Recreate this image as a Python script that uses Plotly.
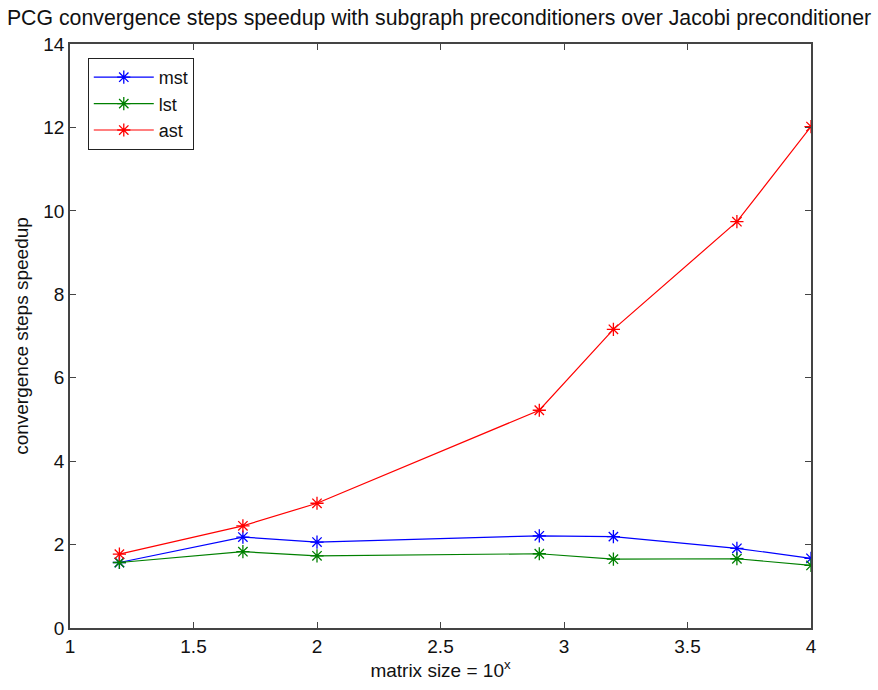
import plotly.graph_objects as go

x_vals = [1.2, 1.7, 2.0, 2.9, 3.2, 3.7, 4.0]
mst = [1.57, 2.18, 2.06, 2.21, 2.19, 1.91, 1.67]
lst = [1.57, 1.83, 1.73, 1.78, 1.65, 1.66, 1.50]
ast = [1.77, 2.45, 2.99, 5.22, 7.16, 9.74, 12.02]
x_ticks = [1, 1.5, 2, 2.5, 3, 3.5, 4]
x_tick_labels = ["1", "1.5", "2", "2.5", "3", "3.5", "4"]
y_ticks = [0, 2, 4, 6, 8, 10, 12, 14]

series = [("mst", mst, "#0000ff"), ("lst", lst, "#008000"), ("ast", ast, "#ff0000")]

FONT = "Liberation Sans, Arial, sans-serif"

fig = go.Figure()
for name, vals, col in series:
    fig.add_trace(go.Scatter(
        x=x_vals, y=vals, name=name, mode="lines+markers",
        line=dict(color=col, width=1.2),
        marker=dict(symbol="asterisk-open", size=11, color=col, line=dict(color=col, width=1.3)),
    ))

axis_common = dict(
    showgrid=False, zeroline=False, showline=True, linecolor="#444", linewidth=1.5,
    mirror="ticks", ticks="inside", ticklen=6, tickcolor="#444", tickwidth=1,
    tickfont=dict(family=FONT, size=19, color="#111"),
)

fig.update_layout(
    width=878, height=690,
    margin=dict(l=70, r=67, t=44, b=62),
    paper_bgcolor="white", plot_bgcolor="white",
    title=dict(text="PCG convergence steps speedup with subgraph preconditioners over Jacobi preconditioner",
               x=0.5, xanchor="center", y=0.974, yanchor="middle",
               font=dict(family=FONT, size=21.3, color="#111")),
    xaxis=dict(range=[1, 4], tickvals=x_ticks, ticktext=x_tick_labels,
               title=dict(text="matrix size = 10<sup>x</sup>", standoff=6,
                          font=dict(family=FONT, size=19, color="#111")),
               **axis_common),
    yaxis=dict(range=[0, 14], tickvals=y_ticks,
               title=dict(text="convergence steps speedup", standoff=10,
                          font=dict(family=FONT, size=19, color="#111")),
               **axis_common),
    legend=dict(x=0.024, y=0.976, xanchor="left", yanchor="top",
                bordercolor="#222", borderwidth=1, bgcolor="white",
                font=dict(family=FONT, size=18, color="#111"),
                tracegroupgap=0, itemwidth=60),
    showlegend=True,
)

fig.write_html("out.html")
